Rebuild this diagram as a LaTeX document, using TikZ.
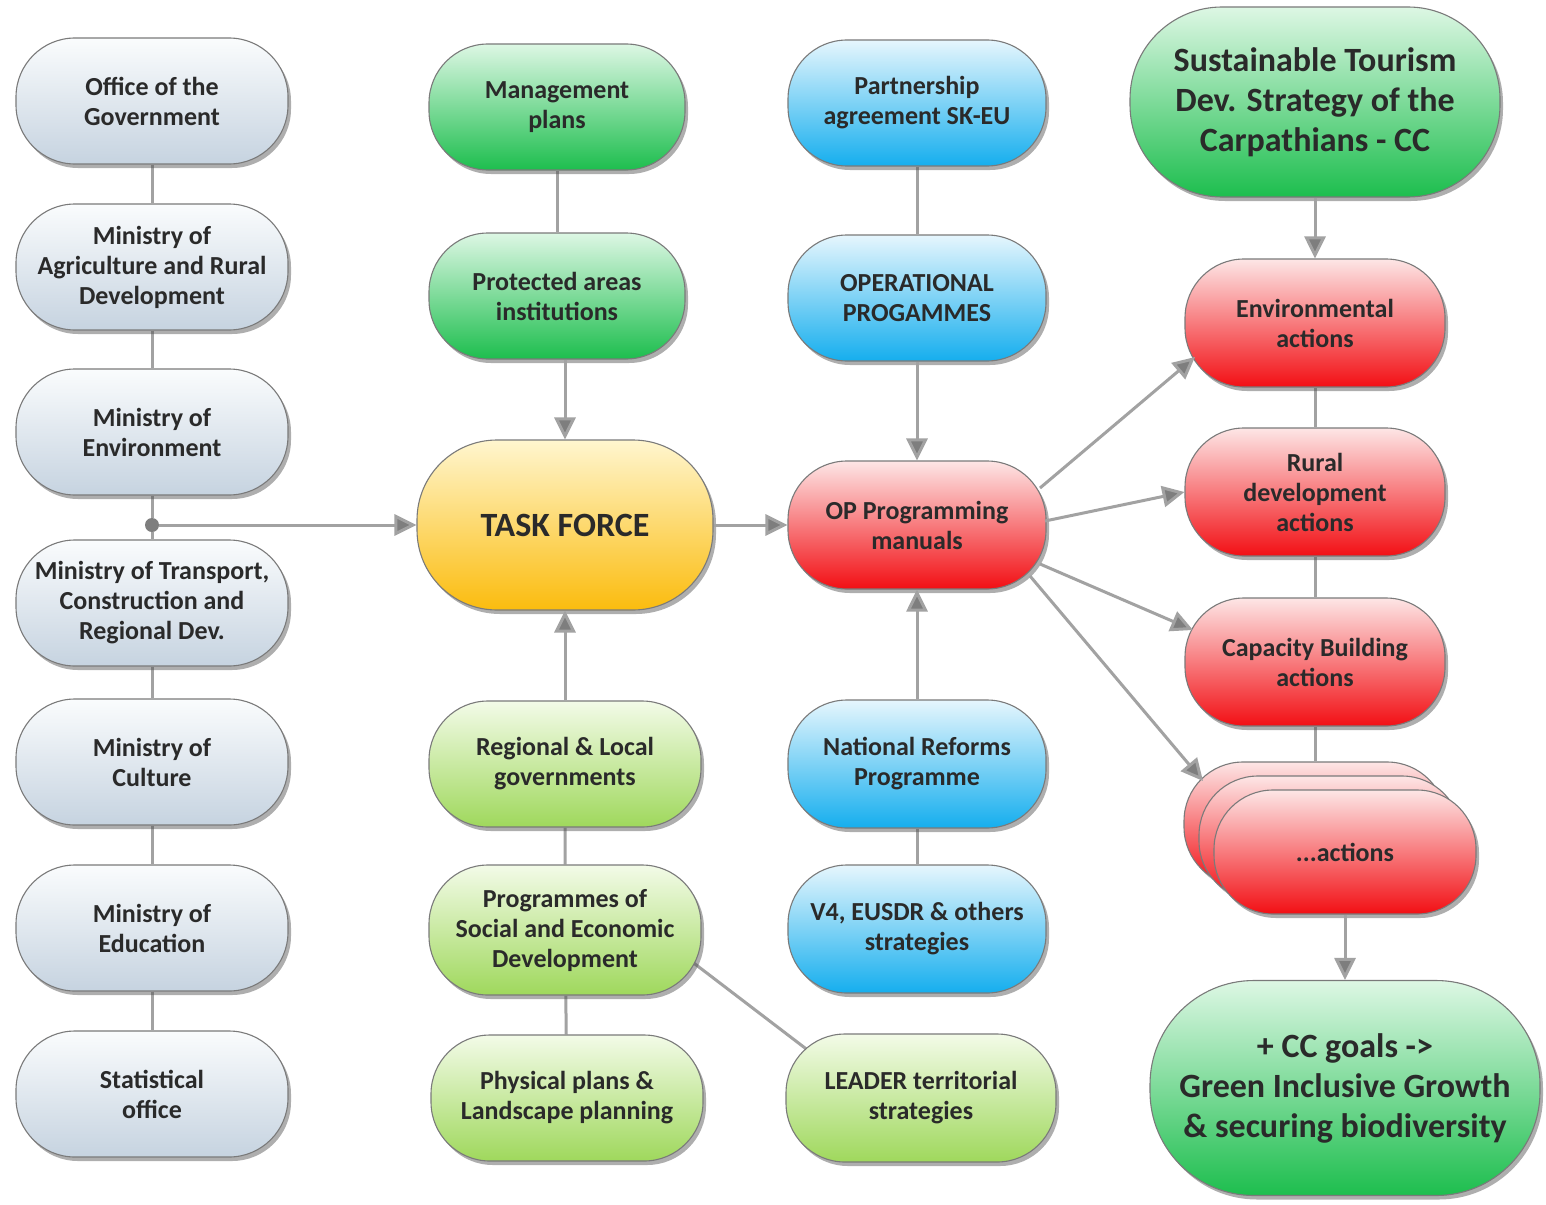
\documentclass[tikz,border=0pt]{standalone}
\usepackage{fontspec}
\setmainfont{Carlito}
\usetikzlibrary{arrows.meta,shadows,backgrounds,calc}
\definecolor{txt}{HTML}{2A2A2A}
\definecolor{boxline}{HTML}{7A7A7A}
\definecolor{linec}{HTML}{A2A2A2}
\definecolor{tipc}{HTML}{7E7E7E}
\definecolor{govtop}{HTML}{FAFCFD}
\definecolor{govbot}{HTML}{C6D3E0}
\definecolor{dgtop}{HTML}{DDF7E4}
\definecolor{dgbot}{HTML}{1DBE4E}
\definecolor{lgtop}{HTML}{F3FBE8}
\definecolor{lgbot}{HTML}{9FD85C}
\definecolor{bltop}{HTML}{E6F6FD}
\definecolor{blbot}{HTML}{15AEEE}
\definecolor{rdtop}{HTML}{FDE6E6}
\definecolor{rdbot}{HTML}{F20F14}
\definecolor{yltop}{HTML}{FFF6CF}
\definecolor{ylbot}{HTML}{FBBC0E}
\begin{document}
\begin{tikzpicture}[x=1pt,y=-1pt,
  box/.style={draw=boxline, line width=1.1pt, rounded corners=59pt,
    minimum width=272pt, minimum height=126pt, inner sep=0pt, align=center,
    text=txt, font=\fontsize{26}{30}\selectfont\bfseries,
    drop shadow={shadow xshift=3pt, shadow yshift=-4pt, opacity=0.45, fill=black!70}},
  bigbox/.style={box, font=\fontsize{34}{40}\selectfont\bfseries},
  govbox/.style={top color=govtop, bottom color=govbot},
  dgreen/.style={top color=dgtop, bottom color=dgbot},
  lgreen/.style={top color=lgtop, bottom color=lgbot},
  bluebox/.style={top color=bltop, bottom color=blbot},
  redbox/.style={top color=rdtop, bottom color=rdbot},
  yelbox/.style={top color=yltop, bottom color=ylbot},
  conn/.style={draw=linec, line width=3pt},
  arr/.style={conn, -{Triangle[length=22pt,width=21pt,fill=tipc]}, shorten >=0pt}
]
\useasboundingbox (0,0) rectangle (1546,1204);

% left column
\node[box,govbox] (off) at (152,101) {Office of the\\Government};
\node[box,govbox] (agr) at (152,267) {Ministry of\\Agriculture and Rural\\Development};
\node[box,govbox] (env) at (152,432) {Ministry of\\Environment};
\node[box,govbox] (trn) at (152,603) {Ministry of Transport,\\Construction and\\Regional Dev.};
\node[box,govbox] (cul) at (152,762) {Ministry of\\Culture};
\node[box,govbox] (edu) at (152,928) {Ministry of\\Education};
\node[box,govbox] (sta) at (152,1094) {Statistical\\office};
\node[circle, fill=tipc, inner sep=0pt, minimum size=14pt] (dot) at (152,525) {};

% second column
\node[box,dgreen,minimum width=256pt] (man) at (557,107) {Management\\plans};
\node[box,dgreen,minimum width=256pt] (pro) at (557,296) {Protected areas\\institutions};
\node[bigbox,yelbox,minimum width=296pt,minimum height=170pt,rounded corners=80pt] (tf) at (565,525) {TASK FORCE};
\node[box,lgreen] (reg) at (565,764) {Regional \& Local\\governments};
\node[box,lgreen,minimum height=130pt] (soc) at (565,930) {Programmes of\\Social and Economic\\Development};
\node[box,lgreen] (phy) at (567,1098) {Physical plans \&\\Landscape planning};

% third column
\node[box,bluebox,minimum width=258pt] (par) at (917,103) {Partnership\\agreement SK-EU};
\node[box,bluebox,minimum width=258pt] (ope) at (917,298) {OPERATIONAL\\PROGAMMES};
\node[box,redbox,minimum width=258pt,minimum height=128pt] (opm) at (917,525) {OP Programming\\manuals};
\node[box,bluebox,minimum width=258pt,minimum height=128pt] (nat) at (917,764) {National Reforms\\Programme};
\node[box,bluebox,minimum width=258pt,minimum height=128pt] (v4) at (917,929) {V4, EUSDR \& others\\strategies};
\node[box,lgreen,minimum width=270pt,minimum height=128pt] (lea) at (921,1098) {LEADER territorial\\strategies};

% fourth column
\node[bigbox,dgreen,minimum width=370pt,minimum height=190pt,rounded corners=92pt] (sus) at (1315,102) {Sustainable Tourism\\Dev. Strategy of the\\Carpathians - CC};
\node[box,redbox,minimum width=260pt,minimum height=128pt] (ena) at (1315,323) {Environmental\\actions};
\node[box,redbox,minimum width=260pt,minimum height=128pt] (rur) at (1315,492) {Rural\\development\\actions};
\node[box,redbox,minimum width=260pt,minimum height=128pt] (cap) at (1315,662) {Capacity Building\\actions};
\node[box,redbox,minimum width=262pt,minimum height=124pt] (actb) at (1315,824) {};
\node[box,redbox,minimum width=262pt,minimum height=124pt] (actm) at (1330,838) {};
\node[box,redbox,minimum width=262pt,minimum height=124pt] (actf) at (1345,852) {...actions};
\node[bigbox,dgreen,minimum width=390pt,minimum height=215pt,rounded corners=104pt] (ccg) at (1345,1088) {+ CC goals ->\\Green Inclusive Growth\\\& securing biodiversity};

% plain connectors
\begin{scope}[on background layer]
\fill[white] (0,0) rectangle (1546,1204);
\draw[conn] (off) -- (agr) -- (env) -- (dot) -- (trn) -- (cul) -- (edu) -- (sta);
\draw[conn] (man) -- (pro);
\draw[conn] (reg) -- (soc) -- (phy);
\draw[conn] ($(soc)+(75,-8)$) -- ($(lea)+(-61,-8)$);
\draw[conn] (par) -- (ope);
\draw[conn] (nat) -- (v4);
\draw[conn] (ena) -- (rur) -- (cap) -- (actb);
\end{scope}

% arrows
\draw[arr] (dot) -- (tf.west);
\draw[arr] (pro.south -| tf) -- (tf.north);
\draw[arr] (reg.north) -- (tf.south);
\draw[arr] (tf.east) -- (opm.west);
\draw[arr] (ope.south) -- (opm.north);
\draw[arr] (nat.north) -- (opm.south);
\draw[arr] (sus.south) -- (ena.north);
\draw[arr] (actf.south) -- (ccg.north);
\draw[arr] ($(opm)+(123,-37)$) -- ($(ena)+(-120,34)$);
\draw[arr] ($(opm)+(128,-4)$) -- (rur.west);
\draw[arr] ($(opm)+(123,39)$) -- ($(cap)+(-122,-32)$);
\draw[arr] ($(opm)+(113,51)$) -- ($(actb)+(-112,-43)$);
\end{tikzpicture}
\end{document}
